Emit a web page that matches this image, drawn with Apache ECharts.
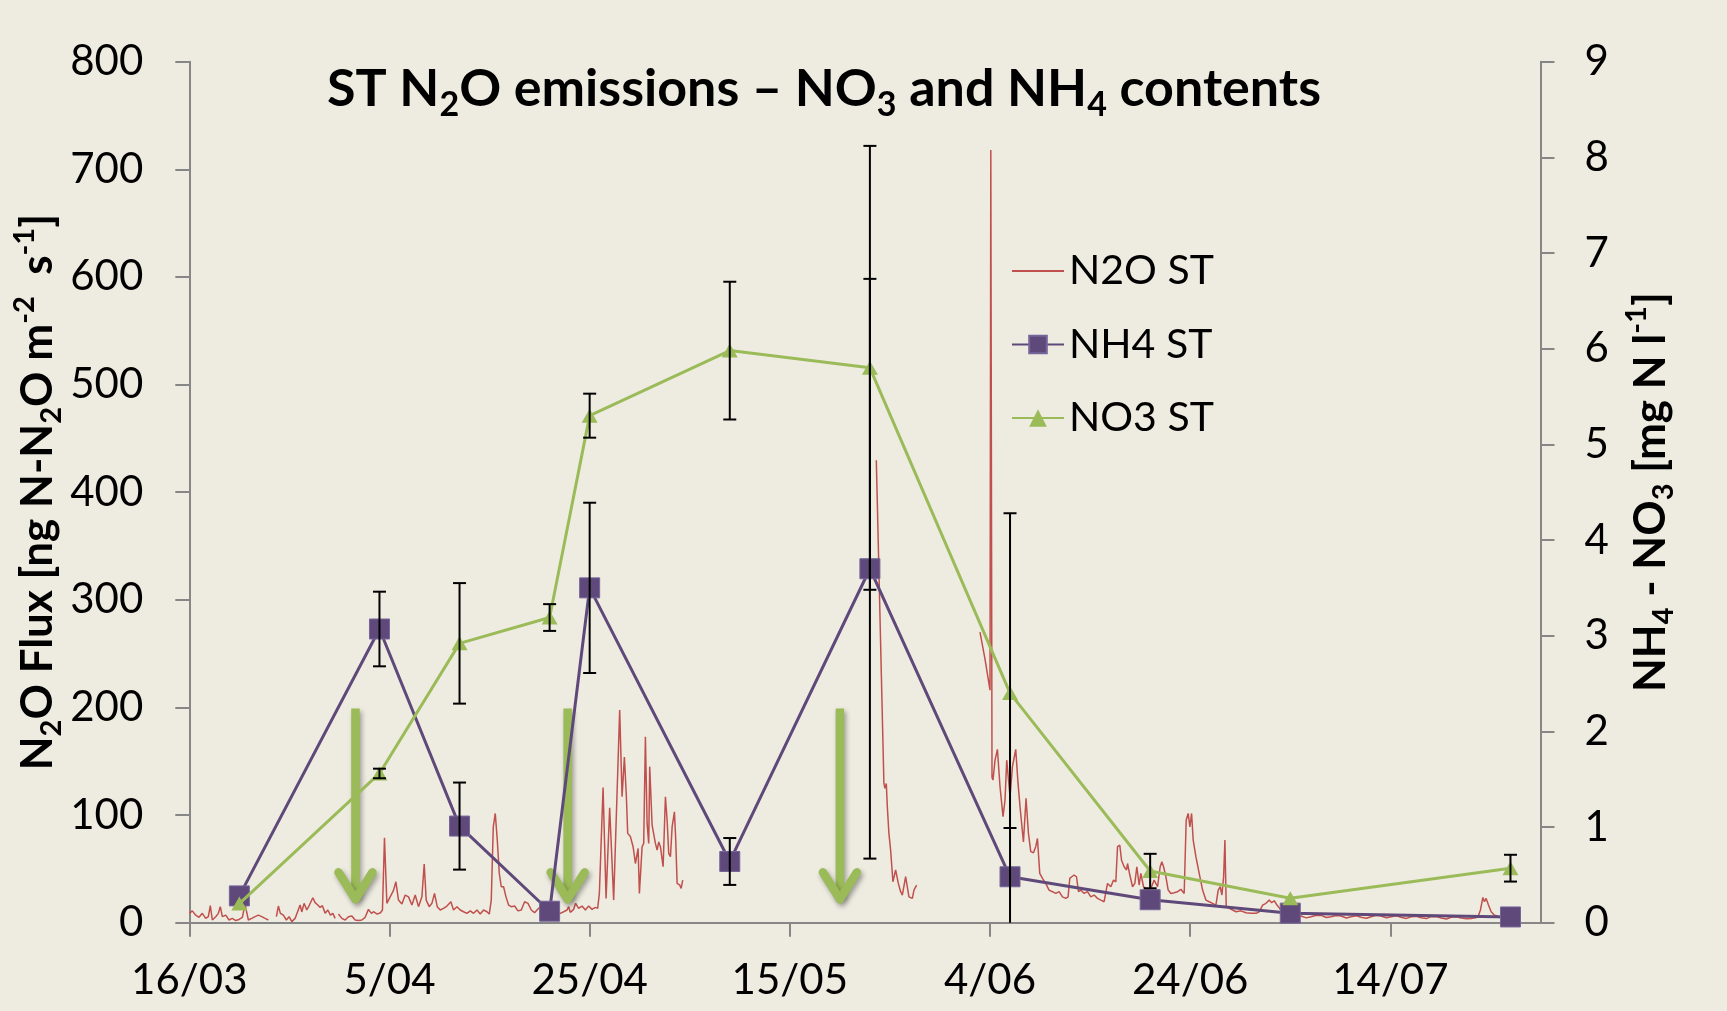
<!DOCTYPE html>
<html>
<head>
<meta charset="utf-8">
<script src="https://cdn.jsdelivr.net/npm/echarts@6/dist/echarts.min.js"></script>
<style>
  html, body { margin: 0; padding: 0; background: #EEECE1; }
  #chart { width: 1727px; height: 1011px; }
</style>
</head>
<body>
<div id="chart"></div>
<script>
// ---- Data (x = days since 16/03) ----
const tickDays = [0, 20, 40, 60, 80, 100, 120];
const tickLabels = ['16/03', '5/04', '25/04', '15/05', '4/06', '24/06', '14/07'];

const sampleDays = [5, 19, 27, 36, 40, 54, 68, 82, 96, 110, 132];
const nh4 = [0.28, 3.07, 1.01, 0.12, 3.50, 0.64, 3.70, 0.48, 0.24, 0.10, 0.06];
const nh4ErrPlus = [0, 0.39, 0.455, 0, 0.89, 0.245, 3.03, 3.8, 0, 0, 0];
const nh4ErrMinus = [0, 0.39, 0.455, 0, 0.89, 0.245, 3.03, 3.8, 0, 0, 0];
const no3 = [0.20, 1.56, 2.92, 3.19, 5.30, 5.98, 5.80, 2.40, 0.54, 0.255, 0.57];
const no3ErrPlus = [0, 0.05, 0.63, 0.14, 0.23, 0.72, 2.32, 0, 0.18, 0, 0.14];
const no3ErrMinus = [0, 0.05, 0.63, 0.14, 0.23, 0.72, 2.32, 1.41, 0.18, 0, 0.14];

const arrowDays = [16.6, 37.8, 65.0];
const arrowTop = 199;
const arrowTip = 18;

const n2o = [
 [0,8.7],[0.3,11],[0.64,7],[0.97,5],[1.3,8.7],[1.64,4],[1.9,5.6],[2.1,15.8],[2.3,2.5],[2.64,5.6],[2.9,8.7],[3.1,14.9],[3.3,5.6],[3.64,7],[3.97,2.5],[4.3,4],[4.64,2],[4.97,3],[5.3,5],[5.57,17],[5.9,2.5],[6.24,4],[6.57,5.6],[6.9,7],[7.24,5.6],[7.57,4],[7.9,2.5],[8.1,null],
 [8.7,5.6],[8.9,15.5],[9.1,8.7],[9.4,7],[9.7,2.5],[9.97,5.6],[10.24,1],[10.57,4],[11.07,16.4],[11.24,10],[11.47,18],[11.74,11.8],[12,16.4],[12.34,23.2],[12.57,18.6],[12.84,16.4],[13.07,14.2],[13.3,15.8],[13.57,8.7],[13.84,11.8],[14.1,7],[14.34,8.7],[14.57,4],[14.75,null],
 [14.9,8],[15.24,4],[15.57,2.5],[15.9,5.6],[16.24,6.2],[16.57,2.5],[16.9,2],[17.24,2.5],[17.57,5],[17.9,12.4],[18.2,8.7],[18.4,10.2],[18.77,8],[19.1,9.3],[19.3,11.8],[19.5,79],[19.74,18],[20.07,24],[20.4,30],[20.64,38],[20.9,21],[21.24,17.3],[21.57,25.7],[21.9,24],[22.24,16.4],[22.57,25.7],[22.9,14.9],[23.24,24],[23.47,54.5],[23.67,21],[23.97,14.9],[24.24,18],[24.5,27.2],[24.77,14.9],[25.07,11.8],[25.4,13.3],[25.74,15.5],[26.14,19.5],[26.4,11.8],[26.74,14.9],[27.07,11.8],[27.4,10.2],[27.74,8.7],[28.07,11],[28.4,8.7],[28.74,11.8],[29.07,8],[29.4,11.8],[29.74,10.2],[29.97,8],[30.17,21],[30.37,89],[30.57,101.5],[30.77,76.8],[30.97,45.8],[31.17,33.4],[31.4,33.4],[31.64,24],[31.9,16.4],[32.17,14.9],[32.5,15.5],[32.84,11],[33.17,11.8],[33.5,19.5],[33.84,18],[34.17,11.8],[34.5,9.3],[34.74,11.8],[35.07,14.9],[35.4,11.8],[35.74,10.2],[36.07,8.7],[36.4,10.2],[36.74,8],[37.07,8.7],[37.4,10.2],[37.74,11.8],[37.9,14.9],[38.07,9.6],[38.4,12.4],[38.6,18],[38.9,13.3],[39.24,15.5],[39.57,11.8],[39.9,15.5],[40.24,12.4],[40.57,14.2],[40.8,13.3],[40.97,27.2],[41.34,125.7],[41.64,22.6],[42,106.8],[42.4,21],[43,197.5],[43.24,117],[43.47,154],[43.67,117],[43.8,83],[44.07,80],[44.34,70.6],[44.57,55],[44.84,69],[44.97,27.2],[45.24,70.6],[45.4,73.7],[45.57,172.8],[45.74,92],[45.9,73.7],[46,145],[46.24,90.7],[46.4,89],[46.57,73.7],[46.74,67.5],[46.9,75],[47.07,70.6],[47.34,52],[47.57,117],[47.74,95],[47.9,64.4],[48.07,61.3],[48.24,89],[48.47,103],[48.6,76.8],[48.74,36.5],[49,35],[49.14,31.9],[49.3,39.6],[55,null],
 [68.64,429.7],[69.4,129.4],[69.5,124.8],[69.64,129.4],[69.74,107.7],[69.9,83],[70.07,67.5],[70.3,38],[70.57,49],[70.84,36.5],[71.07,28.8],[71.24,25.7],[71.57,42.7],[71.9,24],[72.24,22.6],[72.4,30.3],[72.67,35],[75,null],
 [79,270],[79.5,245],[80,216],[80.08,718],[80.2,135],[80.3,132.5],[80.5,151],[80.74,161],[81,126.3],[81.3,98.5],[81.5,114],[81.67,151],[81.84,151.7],[82,117],[82.24,145],[82.57,161],[82.8,129.4],[83,107.7],[83.34,75],[83.6,115.5],[83.84,83],[84.07,66],[84.34,65],[84.57,70.6],[84.74,78.3],[84.97,45.8],[85.24,41.2],[85.57,36.5],[85.9,30.3],[86.24,28.8],[86.57,27.2],[86.9,28.8],[87.24,24],[87.57,22.6],[87.8,24],[87.97,41.2],[88.17,42.7],[88.4,44.3],[88.64,42.7],[88.84,28.8],[89.07,30.3],[89.4,27.2],[89.74,28.8],[90.07,24],[90.4,25.7],[90.74,22.6],[91.07,21],[91.4,19.5],[91.74,36.5],[92.07,33.4],[92.34,39.6],[92.57,38],[92.74,70.6],[92.97,72],[93.14,58],[93.4,52],[93.64,49],[93.74,55],[93.97,44.3],[94.24,33.4],[94.47,36.5],[94.67,52],[94.9,35],[95.07,45.8],[95.34,33.4],[95.74,30.3],[96.14,33.4],[96.4,39.6],[96.74,33.4],[97,52],[97.17,56.7],[97.34,52],[97.57,42.7],[97.8,30.3],[98.07,27.2],[98.4,27.9],[98.74,28.8],[99.07,31],[99.4,27.2],[99.6,95.4],[99.8,101.5],[99.97,89],[100.14,101.5],[100.3,76.8],[100.57,61.3],[100.9,45.8],[101.24,30.3],[101.57,21],[101.9,19.5],[102.24,18],[102.57,16.4],[102.8,30.3],[103,33.4],[103.17,25.7],[103.34,42.7],[103.47,76.8],[103.6,14.9],[103.9,13.3],[104.24,11.8],[104.57,10.2],[105.07,11],[105.57,9.3],[106.07,8.7],[106.57,8.7],[106.9,10.2],[107.24,16.4],[107.57,18],[107.9,21],[108.14,18.6],[108.4,20.4],[108.67,16.4],[108.94,13.3],[109.24,10.2],[109.74,8],[110.24,7],[111.07,6.2],[111.6,4.5],[112.07,5.6],[112.6,7],[113.07,6.8],[113.6,4.8],[114.07,5.6],[114.6,6.6],[115.07,6.2],[115.6,4.4],[116.07,5.6],[116.6,6.5],[117.07,5],[117.6,4.2],[118.07,5.6],[118.6,6.8],[119.07,6.2],[119.6,4.6],[120.07,5.6],[120.6,6.4],[121.07,5],[121.6,4],[122.07,5.6],[122.6,6],[123.07,4.6],[123.6,3.8],[124.07,5.6],[124.6,5.8],[125.07,4.3],[125.6,3.5],[126.07,5],[126.6,5.5],[127.07,4.3],[127.6,3.6],[128.07,4],[128.74,5],[129,11.8],[129.24,23.5],[129.4,19.5],[129.57,22.6],[129.8,16.4],[130.07,10.2],[130.4,7],[130.74,6.2]
];

// ---- Build derived structures ----
const nh4Data = sampleDays.map((d, i) => [d, nh4[i]]);
const no3Data = sampleDays.map((d, i) => [d, no3[i]]);
const errData = [];
sampleDays.forEach((d, i) => {
  if (nh4ErrPlus[i] > 0 || nh4ErrMinus[i] > 0) errData.push([d, nh4[i], nh4ErrPlus[i], nh4ErrMinus[i]]);
  if (no3ErrPlus[i] > 0 || no3ErrMinus[i] > 0) errData.push([d, no3[i], no3ErrPlus[i], no3ErrMinus[i]]);
});
const arrowData = arrowDays.map(d => [d, arrowTop, arrowTip]);

const FONT = 'Lato, "Open Sans", sans-serif';
const AXIS_COLOR = '#868686';

const nameRich = {
  b: { fontFamily: FONT, fontWeight: 'bold', fontSize: 44, lineHeight: 56, color: '#000' },
  s: { fontFamily: FONT, fontWeight: 'bold', fontSize: 29, lineHeight: 22, verticalAlign: 'bottom', color: '#000' },
  p: { fontFamily: FONT, fontWeight: 'bold', fontSize: 29, lineHeight: 34, verticalAlign: 'top', color: '#000' }
};

const chart = echarts.init(document.getElementById('chart'), null, { renderer: 'canvas' });

const option = {
  backgroundColor: '#EEECE1',
  animation: false,
  textStyle: { fontFamily: FONT },
  title: {
    text: '{b|ST N}{s|2}{b|O emissions \u2013 NO}{s|3}{b| and NH}{s|4}{b| contents}',
    left: 322,
    top: 51,
    textStyle: {
      rich: {
        b: { fontFamily: FONT, fontWeight: 'bold', fontSize: 52, lineHeight: 66, color: '#000' },
        s: { fontFamily: FONT, fontWeight: 'bold', fontSize: 34, lineHeight: 26, verticalAlign: 'bottom', color: '#000' }
      }
    }
  },
  legend: {
    orient: 'vertical',
    left: 1006,
    top: 244,
    itemWidth: 52,
    itemHeight: 22,
    itemGap: 29.5,
    data: [
      { name: 'N2O ST', itemStyle: { color: 'rgba(0,0,0,0)', borderWidth: 0 } },
      { name: 'NH4 ST' },
      { name: 'NO3 ST' }
    ],
    textStyle: { fontFamily: FONT, fontSize: 41, lineHeight: 44, color: '#000' }
  },
  grid: { left: 189.3, right: 186.5, top: 61.7, bottom: 88.3, containLabel: false, outerBoundsMode: 'none' },
  xAxis: {
    type: 'value',
    min: 0, max: 135, interval: 20,
    axisLine: { show: true, onZero: false, lineStyle: { color: AXIS_COLOR, width: 2 } },
    axisTick: { show: true, length: 14, customValues: tickDays, lineStyle: { color: AXIS_COLOR, width: 2 } },
    axisLabel: {
      customValues: tickDays,
      margin: 37,
      fontFamily: FONT, fontSize: 42, color: '#000',
      formatter: v => { const i = tickDays.indexOf(v); return i >= 0 ? tickLabels[i] : ''; }
    },
    splitLine: { show: false }
  },
  yAxis: [
    {
      type: 'value', position: 'left',
      min: 0, max: 800, interval: 100,
      axisLine: { show: true, lineStyle: { color: AXIS_COLOR, width: 2 } },
      axisTick: { show: true, length: 14, lineStyle: { color: AXIS_COLOR, width: 2 } },
      axisLabel: { margin: 46, fontFamily: FONT, fontSize: 42, color: '#000' },
      splitLine: { show: false },
      name: '{b|N}{s|2}{b|O Flux [ng N-N}{s|2}{b|O m}{p|-2}{b|  s}{p|-1}{b|]}',
      nameLocation: 'middle',
      nameRotate: 90,
      nameGap: 123,
      nameMoveOverlap: false,
      nameTextStyle: { rich: nameRich }
    },
    {
      type: 'value', position: 'right',
      min: 0, max: 9, interval: 1,
      axisLine: { show: true, lineStyle: { color: AXIS_COLOR, width: 2 } },
      axisTick: { show: true, length: 14, lineStyle: { color: AXIS_COLOR, width: 2 } },
      axisLabel: { margin: 44, fontFamily: FONT, fontSize: 42, color: '#000' },
      splitLine: { show: false },
      name: '{b|NH}{s|4}{b| - NO}{s|3}{b| [mg N l}{p|-1}{b|]}',
      nameLocation: 'middle',
      nameRotate: 90,
      nameGap: 82,
      nameTextStyle: { rich: nameRich }
    }
  ],
  series: [
    {
      name: 'N2O ST', type: 'line', xAxisIndex: 0, yAxisIndex: 0,
      data: n2o, symbol: 'none', connectNulls: false, z: 1,
      color: '#C0504D',
      lineStyle: { color: '#C0504D', width: 1.5 },
      emphasis: { disabled: true }
    },
    {
      name: 'arrows', type: 'custom', xAxisIndex: 0, yAxisIndex: 0, z: 2,
      data: arrowData, silent: true,
      renderItem: (params, api) => {
        const d = api.value(0);
        const pTop = api.coord([d, api.value(1)]);
        const pTip = api.coord([d, api.value(2)]);
        const col = '#9BBB59';
        const shadow = { shadowColor: 'rgba(0,0,0,0.35)', shadowBlur: 5, shadowOffsetX: 2, shadowOffsetY: 3 };
        return {
          type: 'group',
          children: [
            { type: 'line', shape: { x1: pTop[0], y1: pTop[1], x2: pTip[0], y2: pTip[1] - 6 },
              style: Object.assign({ stroke: col, lineWidth: 8.5, lineCap: 'butt' }, shadow) },
            { type: 'polyline', shape: { points: [[pTip[0] - 17, pTip[1] - 31], [pTip[0], pTip[1] - 4], [pTip[0] + 17, pTip[1] - 31]] },
              style: Object.assign({ stroke: col, fill: null, lineWidth: 8.5, lineCap: 'round', lineJoin: 'round' }, shadow) }
          ]
        };
      }
    },
    {
      name: 'NH4 ST', type: 'line', xAxisIndex: 0, yAxisIndex: 1,
      data: nh4Data, z: 3,
      color: '#5F497A',
      symbol: 'rect', symbolSize: 20, showSymbol: true,
      lineStyle: { color: '#5F497A', width: 3 },
      itemStyle: { color: '#5F497A', borderColor: '#76659A', borderWidth: 1 },
      emphasis: { disabled: true }
    },
    {
      name: 'NO3 ST', type: 'line', xAxisIndex: 0, yAxisIndex: 1,
      data: no3Data, z: 4,
      color: '#9BBB59',
      symbol: 'triangle', symbolSize: [16, 14], showSymbol: true,
      lineStyle: { color: '#9BBB59', width: 3 },
      itemStyle: { color: '#9BBB59' },
      emphasis: { disabled: true }
    },
    {
      name: 'errors', type: 'custom', xAxisIndex: 0, yAxisIndex: 1, z: 5,
      data: errData, silent: true,
      renderItem: (params, api) => {
        const d = api.value(0), v = api.value(1), plus = api.value(2), minus = api.value(3);
        const hi = v + plus, lo = v - minus;
        const pHi = api.coord([d, hi]);
        const pLo = api.coord([d, Math.max(lo, 0)]);
        const half = 6.5;
        const st = { stroke: '#000', lineWidth: 2 };
        const children = [{ type: 'line', shape: { x1: pHi[0], y1: pHi[1], x2: pLo[0], y2: pLo[1] }, style: st }];
        if (plus > 0) children.push({ type: 'line', shape: { x1: pHi[0] - half, y1: pHi[1], x2: pHi[0] + half, y2: pHi[1] }, style: st });
        if (minus > 0 && lo >= 0) children.push({ type: 'line', shape: { x1: pLo[0] - half, y1: pLo[1], x2: pLo[0] + half, y2: pLo[1] }, style: st });
        return { type: 'group', children };
      }
    }
  ]
};

chart.setOption(option);
</script>
</body>
</html>
